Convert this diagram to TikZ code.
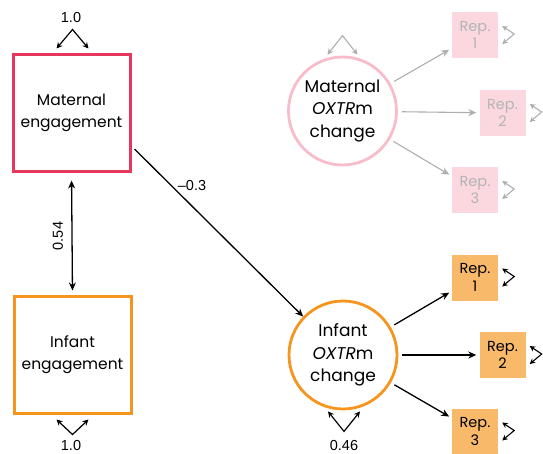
\documentclass[tikz,border=0pt]{standalone}
\usepackage{fontspec}
\setmainfont{Poppins}
\newfontfamily\numfont{Liberation Sans}
\usetikzlibrary{arrows.meta,calc}
\definecolor{mred}{HTML}{E8375C}
\definecolor{morange}{HTML}{F7941D}
\definecolor{repor}{HTML}{F9B96B}
\definecolor{reppk}{HTML}{FBD8E0}
\definecolor{circpk}{HTML}{F8BCCA}
\definecolor{lgray}{HTML}{AEAEAE}
\definecolor{tgray}{HTML}{B4B4B4}
\tikzset{
  bigbox/.style={draw, line width=3pt, fill=white, minimum width=117pt, minimum height=117pt, inner sep=1pt, align=center, font=\fontsize{15.5}{22}\selectfont},
  latent/.style={circle, draw, line width=2.8pt, fill=white, minimum size=108pt, inner sep=0pt, align=center, font=\fontsize{17}{22.5}\selectfont},
  rep/.style={minimum width=46pt, minimum height=46pt, inner sep=0pt, align=center, font=\fontsize{14.5}{17.5}\selectfont},
  arr/.style={line width=1.3pt, -{Stealth[length=8pt,width=7pt]}},
  darr/.style={line width=1.3pt, {Stealth[length=8pt,width=7pt]}-{Stealth[length=8pt,width=7pt]}},
  loopa/.style={line width=1.2pt, {Stealth[length=6pt,width=6pt]}-{Stealth[length=6pt,width=6pt]}},
  rloop/.style={line width=1.1pt, {Stealth[length=5.5pt,width=5.5pt]}-{Stealth[length=5.5pt,width=5.5pt]}},
  numlab/.style={font=\numfont\fontsize{14.5}{17}\selectfont, inner sep=1pt},
}
\begin{document}
\begin{tikzpicture}[x=1pt,y=-1pt]
\useasboundingbox (0,0) rectangle (543,453);
% observed engagement boxes
\node[bigbox, draw=mred] (me) at (71.5,112.5) {Maternal\\engagement};
\node[bigbox, draw=morange] (ie) at (72.5,354.5) {Infant\\engagement};
% latent circles
\node[latent, draw=circpk] (mo) at (342.5,111) {Maternal\\\textit{OXTR}m\\change};
\node[latent, draw=morange] (io) at (343,355) {Infant\\\textit{OXTR}m\\change};
% maternal reps
\node[rep, fill=reppk, text=tgray] (mr1) at (475,35) {Rep.\\1};
\node[rep, fill=reppk, text=tgray] (mr2) at (502.5,113) {Rep.\\2};
\node[rep, fill=reppk, text=tgray] (mr3) at (475,190) {Rep.\\3};
% infant reps
\node[rep, fill=repor] (ir1) at (475,277.5) {Rep.\\1};
\node[rep, fill=repor] (ir2) at (502.5,355) {Rep.\\2};
\node[rep, fill=repor] (ir3) at (475,431.5) {Rep.\\3};
% loadings
\foreach \r in {mr1,mr2,mr3}
  \draw[arr, draw=lgray, line width=1.1pt, shorten <=4pt, shorten >=3pt] (mo) -- (\r);
\foreach \r in {ir1,ir2,ir3}
  \draw[arr, shorten <=4pt, shorten >=3pt] (io) -- (\r);
% regression
\draw[arr] ([yshift=-36.5pt,xshift=3pt]me.east) -- (io.136);
\node[numlab] (l03) at (192,186) {\textendash0.3};
% covariance
\draw[darr, shorten <=8pt, shorten >=4pt] (me.south) -- (ie.north);
\node[numlab, rotate=90] (l054) at (58,236) {0.54};
% variances
\draw[loopa] ($(me.north)+(-15,-4)$) -- ($(me.north)+(1,-23)$) -- ($(me.north)+(17,-4)$);
\node[numlab] (v1) at (71,18) {1.0};
\draw[loopa] ($(ie.south)+(-16,5)$) -- ($(ie.south)+(0,20)$) -- ($(ie.south)+(16,5)$);
\node[numlab] (v2) at (71,445) {1.0};
\draw[loopa, draw=lgray, line width=1.1pt] ($(mo.north)+(-15,-1)$) -- ($(mo.north)+(0,-20)$) -- ($(mo.north)+(15,-1)$);
\draw[loopa] ($(io.south)+(-15,1)$) -- ($(io.south)+(1,21)$) -- ($(io.south)+(17,1)$);
\node[numlab] (v3) at (344,445) {0.46};
% residual loops on reps
\foreach \r in {ir1,ir2,ir3}
  \draw[rloop] ($(\r.east)+(4,-9)$) -- ($(\r.east)+(16,-1)$) -- ($(\r.east)+(4,9)$);
\foreach \r in {mr1,mr2,mr3}
  \draw[rloop, draw=lgray] ($(\r.east)+(4,-9)$) -- ($(\r.east)+(16,-1)$) -- ($(\r.east)+(4,9)$);
\end{tikzpicture}
\end{document}
